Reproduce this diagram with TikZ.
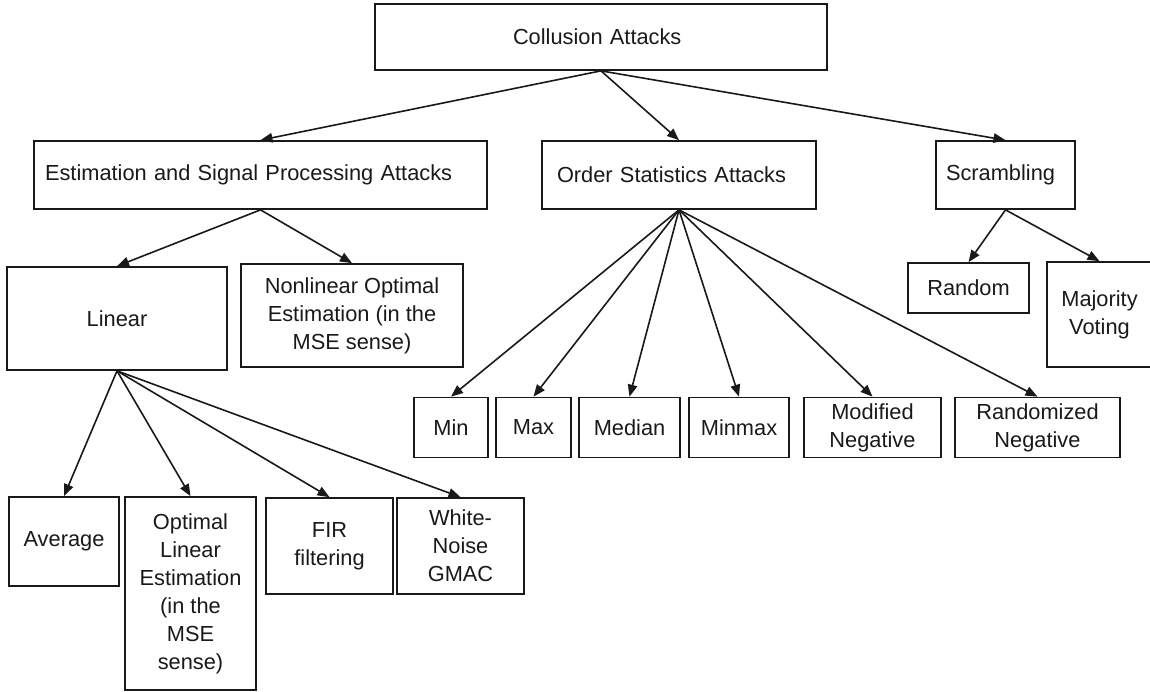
\documentclass[tikz,border=0pt]{standalone}
\usepackage{fontspec}
\setmainfont{Liberation Sans}
\usetikzlibrary{arrows.meta}
\begin{document}
\begin{tikzpicture}[x=1pt,y=-1pt,
  box/.style={draw=black!90, line width=1.7pt, inner sep=0pt, align=center,
    font=\fontsize{21.8}{28}\selectfont, text=black!90},
  link/.style={draw=black!90, line width=1.6pt, -{Triangle[length=12pt,width=9.5pt]}},
]
\useasboundingbox (0,0) rectangle (1150,691);

% top level
\node[box, minimum width=452pt, minimum height=66pt, align=left,
      inner xsep=138pt, text width=176pt] (root) at (601,37) {Collusion Attacks};

% second level
\node[box, minimum width=453pt, minimum height=68pt, align=left,
      inner xsep=11pt, text width=431pt] (est) at (260.5,175)
  {Estimation and Signal Processing Attacks};
\node[box, minimum width=274pt, minimum height=68pt, align=left,
      inner xsep=15pt, text width=244pt] (ord) at (679,175)
  {Order Statistics Attacks};
\node[box, minimum width=139pt, minimum height=68pt, align=left,
      inner xsep=10pt, text width=119pt] (scr) at (1005.5,175)
  {Scrambling};

% estimation branch
\node[box, minimum width=220pt, minimum height=103pt] (lin) at (117,318.5) {Linear};
\node[box, minimum width=222pt, minimum height=103pt] (nonlin) at (352,315.5)
  {Nonlinear Optimal\\Estimation (in the\\MSE sense)};

\node[box, minimum width=110pt, minimum height=89pt] (avg) at (64,541.5) {Average};
\node[box, minimum width=131pt, minimum height=193pt] (optlin) at (190.5,593.5)
  {Optimal\\Linear\\Estimation\\(in the\\MSE\\sense)};
\node[box, minimum width=127pt, minimum height=96pt] (fir) at (329.5,546)
  {FIR\\filtering};
\node[box, minimum width=127pt, minimum height=96pt] (gmac) at (460.5,546)
  {White-\\Noise\\GMAC};

% order statistics branch
\node[box, minimum width=74pt,  minimum height=60pt] (min) at (451,427.5) {Min};
\node[box, minimum width=75pt,  minimum height=60pt] (max) at (533.5,427.5) {Max};
\node[box, minimum width=101pt, minimum height=60pt] (med) at (629.5,427.5) {Median};
\node[box, minimum width=100pt, minimum height=60pt] (minmax) at (739,427.5) {Minmax};
\node[box, minimum width=137pt, minimum height=60pt] (modneg) at (872.5,427.5)
  {Modified\\Negative};
\node[box, minimum width=165pt, minimum height=60pt] (randneg) at (1037.5,427.5)
  {Randomized\\Negative};

% scrambling branch
\node[box, minimum width=121pt, minimum height=50pt] (rand) at (968.5,288) {Random};
\node[box, minimum width=105pt, minimum height=105pt] (major) at (1099.5,314.5)
  {Majority\\Voting};

% connectors
\foreach \c in {est,ord,scr} \draw[link] (root.south) -- (\c.north);
\foreach \c in {lin,nonlin} \draw[link] (est.south) -- (\c.north);
\foreach \c in {avg,optlin,fir,gmac} \draw[link] (lin.south) -- (\c.north);
\foreach \c in {min,max,med,minmax,modneg,randneg} \draw[link] (ord.south) -- (\c.north);
\foreach \c in {rand,major} \draw[link] (scr.south) -- (\c.north);
\end{tikzpicture}
\end{document}
